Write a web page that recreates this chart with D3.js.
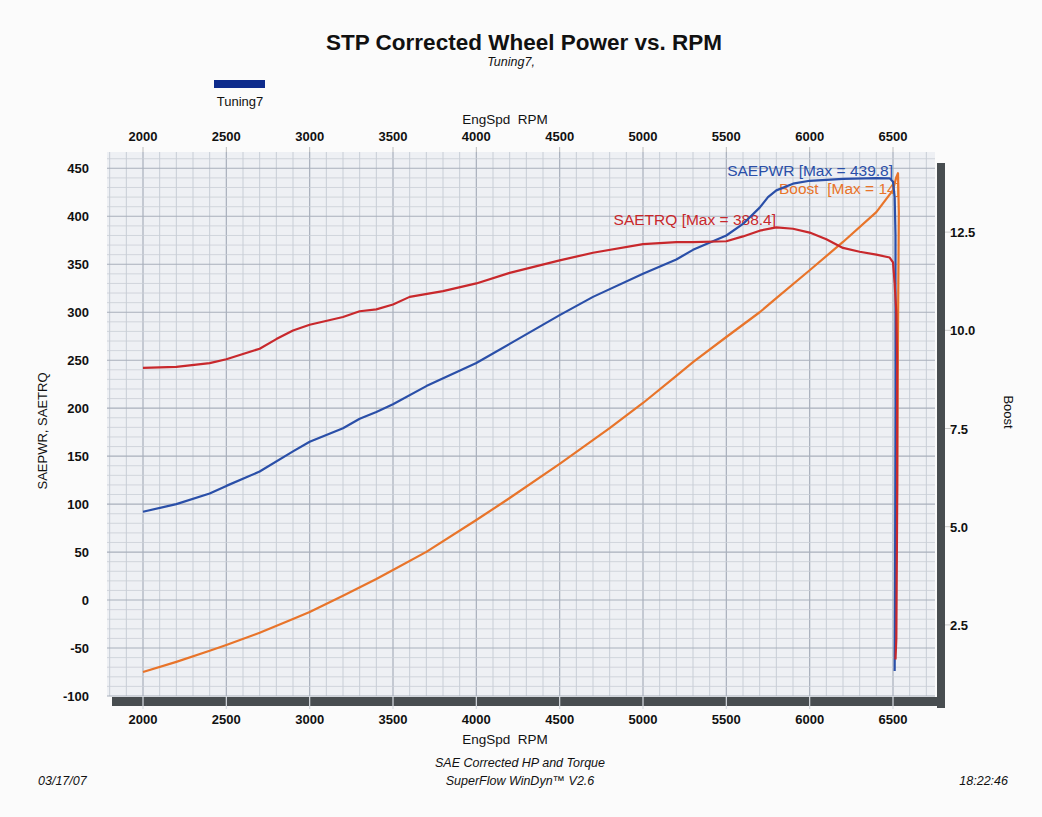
<!DOCTYPE html>
<html><head><meta charset="utf-8">
<script src="https://cdn.jsdelivr.net/npm/d3@7"></script>
<style>
body{margin:0;background:#fbfbfb;}
text{font-family:"Liberation Sans",Arial,sans-serif;fill:#111;}
</style></head>
<body><svg id="c" width="1042" height="817"></svg>
<script>
// ---- data ----
const pwrRpm = [2000,2200,2400,2500,2700,2900,3000,3200,3300,3400,3500,3700,4000,4200,4500,4700,5000,5200,5300,5500,5600,5700,5750,5800,5900,6000,6200,6400,6480,6500,6510,6515,6515,6512,6510];
const saepwr = [92,100,111,119,134,155,165,179,189,196,204,223,247,267,297,316,340,355,365,380,392,409,420,427,434,437,439,439.8,439.6,436,420,380,200,0,-74];
const trqRpm = [2000,2200,2400,2500,2700,2800,2900,3000,3200,3300,3400,3500,3600,3800,4000,4200,4500,4700,5000,5200,5300,5500,5600,5700,5800,5900,6000,6100,6200,6300,6400,6480,6500,6510,6520,6525,6525,6520,6515];
const saetrq = [242,243,247,251,262,272,281,287,295,301,303,308,316,322,330,341,354,362,371,373,373,374,379,385,388.4,387,383,376,367,363,360,357,352,330,300,250,100,-40,-62];
const bstRpm = [2000,2200,2400,2500,2700,2900,3000,3200,3400,3500,3700,4000,4200,4500,4800,5000,5200,5300,5500,5700,5800,6000,6200,6400,6500,6520,6530,6535,6530,6525,6515];
const boost  = [1.30,1.56,1.84,1.99,2.30,2.65,2.83,3.24,3.67,3.90,4.36,5.17,5.73,6.60,7.51,8.15,8.84,9.19,9.83,10.46,10.82,11.53,12.25,13.01,13.57,13.9,14.0,13.0,10.0,6.0,3.44];
const rpmTicks = [2000,2500,3000,3500,4000,4500,5000,5500,6000,6500];
const leftTicks = [-100,-50,0,50,100,150,200,250,300,350,400,450];
const boostTicks = [2.5,5.0,7.5,10.0,12.5];
const seriesLabels = ["SAEPWR [Max = 439.8]","Boost  [Max = 14]","SAETRQ [Max = 388.4]"];

// ---- layout ----
const svg = d3.select("#c");
const L=107, R=935, T=152, B=696;
const x = d3.scaleLinear().domain([1784,6752]).range([L,R]);
const y = d3.scaleLinear().domain([-100,467]).range([B,T]);
const yb = d3.scaleLinear().domain([0.69,14.54]).range([B,T]);

// shadow bars
svg.append("rect").attr("x",R+2).attr("y",T+11).attr("width",8).attr("height",B-T+1).attr("fill","#484d50");
svg.append("rect").attr("x",L+5).attr("y",B+1).attr("width",R-L+5).attr("height",9).attr("fill","#484d50");
// plot bg
svg.append("rect").attr("x",L).attr("y",T).attr("width",R-L).attr("height",B-T).attr("fill","#eef0f4");

// grid
const g = svg.append("g");
g.selectAll(".vx").data(d3.range(1800,6751,100)).join("line")
  .attr("x1",d=>x(d)).attr("x2",d=>x(d)).attr("y1",T).attr("y2",B)
  .attr("stroke",d=>d%500===0?"#a8afbb":"#c3c9d2").attr("stroke-width",d=>d%500===0?1.2:0.9);
g.selectAll(".hy").data(d3.range(-100,467,10)).join("line")
  .attr("y1",d=>y(d)).attr("y2",d=>y(d)).attr("x1",L).attr("x2",R)
  .attr("stroke",d=>d%50===0?"#a8afbb":"#c9ced6").attr("stroke-width",d=>d%50===0?1.1:0.8);

// tick gaps in bottom bar
svg.selectAll(".bt").data(rpmTicks).join("line")
  .attr("x1",d=>x(d)).attr("x2",d=>x(d)).attr("y1",B).attr("y2",B+13)
  .attr("stroke","#d8dce2").attr("stroke-width",1.2);
// top ticks
svg.selectAll(".tt").data(rpmTicks).join("line")
  .attr("x1",d=>x(d)).attr("x2",d=>x(d)).attr("y1",T-5).attr("y2",T)
  .attr("stroke","#bbb").attr("stroke-width",1);
// right ticks
svg.selectAll(".rt").data(boostTicks).join("line")
  .attr("x1",R+10).attr("x2",R+16).attr("y1",d=>yb(d)).attr("y2",d=>yb(d))
  .attr("stroke","#ccc").attr("stroke-width",1);

// tick labels
const fmt = d3.format(".1f");
svg.selectAll(".xl").data(rpmTicks).join("text").attr("x",d=>x(d)).attr("y",724)
  .attr("text-anchor","middle").attr("font-size",13).attr("font-weight","bold").text(d=>d);
svg.selectAll(".xt").data(rpmTicks).join("text").attr("x",d=>x(d)).attr("y",141)
  .attr("text-anchor","middle").attr("font-size",13).attr("font-weight","bold").text(d=>d);
svg.selectAll(".yl").data(leftTicks).join("text").attr("x",89).attr("y",d=>y(d)+5)
  .attr("text-anchor","end").attr("font-size",13).attr("font-weight","bold").text(d=>d);
svg.selectAll(".br").data(boostTicks).join("text").attr("x",950).attr("y",d=>yb(d)+5)
  .attr("text-anchor","start").attr("font-size",13).attr("font-weight","bold").text(d=>fmt(d));

// axis titles
svg.append("text").attr("x",505).attr("y",124).attr("text-anchor","middle").attr("font-size",13.5).text("EngSpd  RPM").attr("xml:space","preserve");
svg.append("text").attr("x",505).attr("y",744).attr("text-anchor","middle").attr("font-size",13.5).text("EngSpd  RPM").attr("xml:space","preserve");
svg.append("text").attr("transform","translate(47,431) rotate(-90)").attr("text-anchor","middle").attr("font-size",13).text("SAEPWR, SAETRQ");
svg.append("text").attr("transform","translate(1004,412) rotate(90)").attr("text-anchor","middle").attr("font-size",13).text("Boost");

// titles
svg.append("text").attr("x",524).attr("y",50).attr("text-anchor","middle").attr("font-size",22.5).attr("font-weight","bold").text("STP Corrected Wheel Power vs. RPM");
svg.append("text").attr("x",511).attr("y",66).attr("text-anchor","middle").attr("font-size",12.5).attr("font-style","italic").text("Tuning7,");
// legend
svg.append("rect").attr("x",214).attr("y",80).attr("width",51).attr("height",8).attr("fill","#0d2b8c");
svg.append("text").attr("x",240).attr("y",106).attr("text-anchor","middle").attr("font-size",13).text("Tuning7");

// footer
svg.append("text").attr("x",520).attr("y",767).attr("text-anchor","middle").attr("font-size",12.5).attr("font-style","italic").text("SAE Corrected HP and Torque");
svg.append("text").attr("x",520).attr("y",785).attr("text-anchor","middle").attr("font-size",12.5).attr("font-style","italic").text("SuperFlow WinDyn\u2122 V2.6");
svg.append("text").attr("x",38).attr("y",785).attr("font-size",12.5).attr("font-style","italic").text("03/17/07");
svg.append("text").attr("x",1008).attr("y",785).attr("text-anchor","end").attr("font-size",12.5).attr("font-style","italic").text("18:22:46");

// series labels
svg.append("text").attr("x",893).attr("y",176).attr("text-anchor","end").attr("font-size",15.5).style("fill","#2a4fa8").text(seriesLabels[0]);
svg.append("text").attr("x",900).attr("y",194).attr("text-anchor","end").attr("font-size",15.5).style("fill","#e8742a").attr("xml:space","preserve").text(seriesLabels[1]);
svg.append("text").attr("x",776).attr("y",225).attr("text-anchor","end").attr("font-size",15.5).style("fill","#c8282c").text(seriesLabels[2]);

// lines
const line = (xs,ys,sc)=>d3.line().x((d,i)=>x(xs[i])).y(d=>sc(d))(ys);
svg.append("path").attr("d",line(bstRpm,boost,yb)).attr("fill","none").attr("stroke","#e8742a").attr("stroke-width",2.2).attr("stroke-linejoin","round");
svg.append("path").attr("d",line(pwrRpm,saepwr,y)).attr("fill","none").attr("stroke","#2a4fa8").attr("stroke-width",2.2).attr("stroke-linejoin","round");
svg.append("path").attr("d",line(trqRpm,saetrq,y)).attr("fill","none").attr("stroke","#c8282c").attr("stroke-width",2.2).attr("stroke-linejoin","round");
</script></body></html>
